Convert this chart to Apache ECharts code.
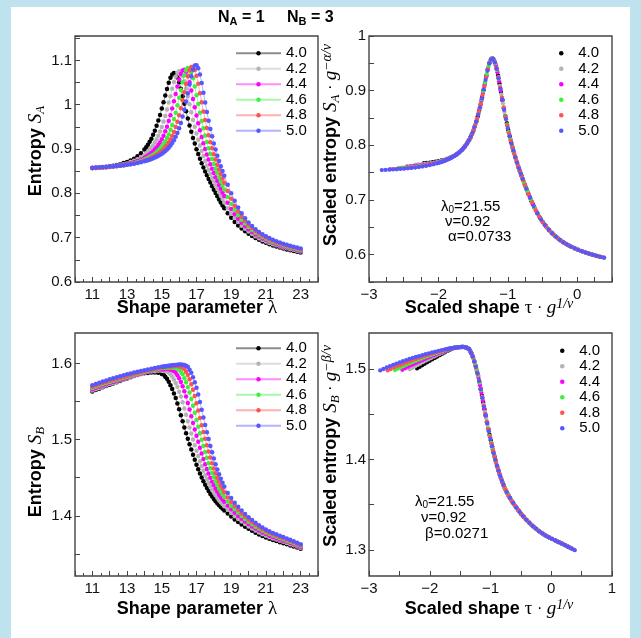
<!DOCTYPE html>
<html><head><meta charset="utf-8">
<script src="https://cdn.jsdelivr.net/npm/echarts@6/dist/echarts.min.js"></script>
<style>
html,body{margin:0;padding:0;background:#bfe3ee;overflow:hidden;}
#bg{position:absolute;left:11px;top:7px;width:619px;height:631px;background:#fff;}
#chart{position:absolute;left:0;top:0;width:641px;height:638px;}
</style></head><body>
<div id="bg"></div><div id="chart"></div>
<script>
// ---------------- data ----------------
const lambdaValues = [11,11.2,11.4,11.6,11.8,12,12.2,12.4,12.6,12.8,13,13.2,13.4,13.6,13.8,14,14.2,14.4,14.6,14.8,15,15.2,15.4,15.6,15.8,16,16.2,16.4,16.6,16.8,17,17.2,17.4,17.6,17.8,18,18.2,18.4,18.6,18.8,19,19.2,19.4,19.6,19.8,20,20.2,20.4,20.6,20.8,21,21.2,21.4,21.6,21.8,22,22.2,22.4,22.6,22.8,23];
// extra samples in the steep parts
const lambdaMidA = [14.1,14.3,14.5,14.7,14.9,15.1,15.3,15.5,15.7,15.9,16.1,16.3,16.5,16.7,16.9,17.1,17.3,17.5,17.7,17.9,18.1,18.3,18.5];
const lambdaMidB = [15.1,15.3,15.5,15.7,15.9,16.1,16.3,16.5,16.7,16.9,17.1,17.3,17.5,17.7,17.9,18.1,18.3,18.5];
const gLabels = ['4.0','4.2','4.4','4.6','4.8','5.0'];

const SA_40 = [0.8570,0.8576,0.8583,0.8591,0.8601,0.8612,0.8624,0.8638,0.8655,0.8684,
 0.8710,0.8743,0.8783,0.8836,0.8905,0.8990,0.9097,0.9231,0.9414,0.9641,
 0.9913,1.0207,1.0496,1.0683,1.0683,1.0504,1.0192,0.9855,0.9533,0.9248,
 0.8996,0.8778,0.8584,0.8407,0.8242,0.8084,0.7934,0.7794,0.7664,0.7549,
 0.7447,0.7356,0.7276,0.7206,0.7143,0.7087,0.7036,0.6991,0.6951,0.6915,
 0.6883,0.6853,0.6826,0.6801,0.6778,0.6756,0.6736,0.6717,0.6699,0.6683,0.6667];
const SA_42 = [0.8571,0.8576,0.8582,0.8588,0.8596,0.8605,0.8616,0.8629,0.8643,0.8658,
 0.8676,0.8706,0.8734,0.8770,0.8812,0.8868,0.8939,0.9030,0.9147,0.9297,
 0.9495,0.9743,1.0047,1.0362,1.0639,1.0757,1.0646,1.0367,1.0010,0.9655,
 0.9349,0.9077,0.8840,0.8631,0.8443,0.8268,0.8102,0.7945,0.7796,0.7662,
 0.7545,0.7442,0.7351,0.7271,0.7200,0.7137,0.7081,0.7032,0.6988,0.6950,
 0.6915,0.6882,0.6853,0.6827,0.6803,0.6780,0.6759,0.6739,0.6721,0.6703,0.6687];
const SA_44 = [0.8570,0.8574,0.8579,0.8584,0.8591,0.8599,0.8609,0.8619,0.8632,0.8646,
 0.8662,0.8680,0.8705,0.8732,0.8763,0.8802,0.8849,0.8909,0.8988,0.9090,
 0.9222,0.9400,0.9631,0.9917,1.0244,1.0568,1.0770,1.0743,1.0507,1.0131,
 0.9754,0.9425,0.9131,0.8878,0.8658,0.8460,0.8277,0.8103,0.7939,0.7786,
 0.7649,0.7530,0.7426,0.7337,0.7258,0.7188,0.7127,0.7073,0.7025,0.6983,
 0.6945,0.6911,0.6880,0.6852,0.6826,0.6803,0.6781,0.6760,0.6741,0.6723,0.6706];
const SA_46 = [0.8570,0.8574,0.8579,0.8584,0.8590,0.8596,0.8605,0.8614,0.8625,0.8637,
 0.8651,0.8667,0.8685,0.8705,0.8733,0.8763,0.8799,0.8842,0.8896,0.8964,
 0.9054,0.9171,0.9327,0.9541,0.9816,1.0156,1.0507,1.0775,1.0806,1.0595,
 1.0214,0.9818,0.9468,0.9157,0.8893,0.8663,0.8458,0.8267,0.8087,0.7917,
 0.7762,0.7625,0.7507,0.7406,0.7318,0.7240,0.7172,0.7113,0.7060,0.7015,
 0.6975,0.6938,0.6905,0.6876,0.6849,0.6824,0.6801,0.6780,0.6760,0.6741,0.6724];
const SA_48 = [0.8569,0.8573,0.8578,0.8583,0.8589,0.8595,0.8602,0.8610,0.8620,0.8631,
 0.8643,0.8657,0.8673,0.8691,0.8712,0.8734,0.8766,0.8801,0.8842,0.8893,
 0.8956,0.9038,0.9148,0.9294,0.9496,0.9763,1.0098,1.0465,1.0777,1.0853,
 1.0654,1.0261,0.9845,0.9477,0.9155,0.8882,0.8647,0.8436,0.8238,0.8053,
 0.7879,0.7722,0.7589,0.7474,0.7377,0.7291,0.7217,0.7152,0.7095,0.7046,
 0.7003,0.6965,0.6930,0.6899,0.6871,0.6845,0.6821,0.6799,0.6778,0.6759,0.6741];
const SA_50 = [0.8580,0.8583,0.8588,0.8593,0.8597,0.8603,0.8610,0.8617,0.8624,0.8633,
 0.8644,0.8656,0.8669,0.8684,0.8703,0.8723,0.8745,0.8774,0.8807,0.8846,
 0.8894,0.8954,0.9031,0.9135,0.9275,0.9468,0.9733,1.0071,1.0454,1.0796,
 1.0891,1.0684,1.0270,0.9833,0.9452,0.9126,0.8851,0.8613,0.8397,0.8194,
 0.8005,0.7831,0.7679,0.7549,0.7439,0.7344,0.7262,0.7191,0.7129,0.7077,
 0.7031,0.6990,0.6953,0.6921,0.6892,0.6865,0.6840,0.6817,0.6795,0.6776,0.6757];

const SA_40_mid = [0.9039,0.9162,0.9322,0.9524,0.9768,1.0058,1.0357,1.0609,1.0716,1.0612,1.0360,1.0023,0.9686,0.9388,0.9122,0.8885,0.8677,0.8491,0.8322,0.8162,0.8009,0.7864,0.7727];
const SA_42_mid = [0.8900,0.8979,0.9082,0.9216,0.9394,0.9619,0.9893,1.0192,1.0513,1.0722,1.0723,1.0527,1.0189,0.9832,0.9502,0.9211,0.8954,0.8730,0.8532,0.8354,0.8184,0.8023,0.7871];
const SA_44_mid = [0.8825,0.8878,0.8946,0.9035,0.9149,0.9298,0.9502,0.9762,1.0079,1.0411,1.0694,1.0788,1.0649,1.0319,0.9942,0.9584,0.9272,0.8998,0.8762,0.8554,0.8366,0.8188,0.8019];
const SA_46_mid = [0.8780,0.8820,0.8868,0.8929,0.9008,0.9112,0.9248,0.9434,0.9679,0.9985,1.0331,1.0665,1.0826,1.0727,1.0412,1.0016,0.9635,0.9306,0.9019,0.8773,0.8557,0.8360,0.8175];
const SA_48_mid = [0.8751,0.8782,0.8819,0.8865,0.8921,0.8992,0.9087,0.9213,0.9383,0.9618,0.9919,1.0280,1.0641,1.0852,1.0783,1.0470,1.0053,0.9655,0.9311,0.9016,0.8762,0.8540,0.8337];
const SA_50_mid = [0.8734,0.8760,0.8790,0.8826,0.8870,0.8923,0.8990,0.9079,0.9198,0.9360,0.9586,0.9884,1.0259,1.0643,1.0882,1.0820,1.0488,1.0051,0.9640,0.9288,0.8987,0.8730,0.8504];

const SB_40 = [1.5633,1.5651,1.5669,1.5687,1.5704,1.5721,1.5738,1.5755,1.5771,1.5788,
 1.5804,1.5819,1.5835,1.5850,1.5863,1.5873,1.5876,1.5880,1.5881,1.5877,
 1.5863,1.5827,1.5760,1.5666,1.5548,1.5398,1.5240,1.5085,1.4940,1.4801,
 1.4670,1.4556,1.4455,1.4366,1.4288,1.4220,1.4164,1.4115,1.4071,1.4030,
 1.3990,1.3952,1.3919,1.3887,1.3857,1.3829,1.3803,1.3778,1.3755,1.3735,
 1.3716,1.3698,1.3683,1.3668,1.3654,1.3640,1.3626,1.3612,1.3597,1.3583,1.3568];
const SB_42 = [1.5646,1.5663,1.5679,1.5696,1.5712,1.5729,1.5745,1.5760,1.5776,1.5791,
 1.5806,1.5820,1.5835,1.5849,1.5862,1.5875,1.5888,1.5896,1.5899,1.5903,
 1.5904,1.5898,1.5881,1.5828,1.5743,1.5630,1.5490,1.5327,1.5158,1.5002,
 1.4854,1.4715,1.4591,1.4483,1.4389,1.4306,1.4236,1.4177,1.4126,1.4080,
 1.4038,1.3996,1.3958,1.3924,1.3891,1.3861,1.3832,1.3806,1.3781,1.3759,
 1.3738,1.3720,1.3703,1.3688,1.3672,1.3658,1.3643,1.3628,1.3613,1.3597,1.3581];
const SB_44 = [1.5662,1.5679,1.5696,1.5712,1.5727,1.5742,1.5757,1.5772,1.5786,1.5800,
 1.5814,1.5828,1.5841,1.5854,1.5867,1.5879,1.5891,1.5902,1.5913,1.5918,
 1.5922,1.5925,1.5923,1.5912,1.5879,1.5807,1.5700,1.5566,1.5396,1.5217,
 1.5051,1.4894,1.4746,1.4614,1.4500,1.4402,1.4316,1.4244,1.4184,1.4132,
 1.4085,1.4041,1.3997,1.3960,1.3924,1.3892,1.3860,1.3832,1.3806,1.3782,
 1.3760,1.3740,1.3723,1.3706,1.3690,1.3674,1.3659,1.3643,1.3627,1.3610,1.3594];
const SB_46 = [1.5679,1.5695,1.5711,1.5727,1.5742,1.5758,1.5772,1.5786,1.5799,1.5813,
 1.5826,1.5839,1.5851,1.5864,1.5875,1.5887,1.5898,1.5909,1.5919,1.5929,
 1.5937,1.5941,1.5945,1.5947,1.5941,1.5921,1.5857,1.5754,1.5619,1.5446,
 1.5259,1.5083,1.4918,1.4762,1.4624,1.4506,1.4405,1.4318,1.4246,1.4186,
 1.4133,1.4085,1.4039,1.3997,1.3958,1.3922,1.3889,1.3858,1.3830,1.3804,
 1.3781,1.3760,1.3741,1.3724,1.3707,1.3691,1.3674,1.3658,1.3641,1.3623,1.3606];
const SB_48 = [1.5694,1.5710,1.5727,1.5742,1.5757,1.5772,1.5786,1.5801,1.5814,1.5826,
 1.5839,1.5852,1.5864,1.5875,1.5886,1.5897,1.5908,1.5918,1.5928,1.5937,
 1.5946,1.5953,1.5959,1.5963,1.5966,1.5963,1.5946,1.5892,1.5792,1.5656,
 1.5479,1.5284,1.5099,1.4926,1.4764,1.4621,1.4501,1.4398,1.4311,1.4241,
 1.4181,1.4128,1.4080,1.4032,1.3991,1.3952,1.3917,1.3883,1.3853,1.3825,
 1.3801,1.3778,1.3759,1.3741,1.3723,1.3706,1.3689,1.3672,1.3653,1.3635,1.3617];
const SB_50 = [1.5713,1.5730,1.5747,1.5762,1.5778,1.5793,1.5806,1.5820,1.5833,1.5846,
 1.5858,1.5869,1.5880,1.5892,1.5902,1.5912,1.5922,1.5931,1.5940,1.5949,
 1.5957,1.5965,1.5971,1.5977,1.5981,1.5985,1.5983,1.5969,1.5919,1.5820,
 1.5680,1.5495,1.5291,1.5098,1.4918,1.4751,1.4608,1.4488,1.4386,1.4301,
 1.4233,1.4173,1.4120,1.4070,1.4024,1.3982,1.3944,1.3908,1.3877,1.3846,
 1.3821,1.3796,1.3776,1.3757,1.3739,1.3721,1.3703,1.3685,1.3665,1.3646,1.3627];

const SB_40_mid = [1.5855,1.5799,1.5714,1.5607,1.5475,1.5320,1.5159,1.5011,1.4870,1.4736,1.4612,1.4503,1.4408,1.4325,1.4253,1.4192,1.4139,1.4093];
const SB_42_mid = [1.5901,1.5890,1.5858,1.5791,1.5693,1.5568,1.5410,1.5241,1.5080,1.4928,1.4784,1.4651,1.4534,1.4433,1.4345,1.4270,1.4206,1.4152];
const SB_44_mid = [1.5924,1.5926,1.5920,1.5902,1.5847,1.5756,1.5635,1.5481,1.5306,1.5133,1.4971,1.4819,1.4677,1.4554,1.4448,1.4355,1.4277,1.4213];
const SB_46_mid = [1.5939,1.5943,1.5946,1.5944,1.5931,1.5890,1.5807,1.5688,1.5535,1.5353,1.5169,1.4999,1.4838,1.4690,1.4562,1.4453,1.4359,1.4279];
const SB_48_mid = [1.5950,1.5957,1.5961,1.5965,1.5966,1.5957,1.5926,1.5848,1.5728,1.5573,1.5383,1.5190,1.5011,1.4844,1.4691,1.4560,1.4449,1.4354];
const SB_50_mid = [1.5961,1.5968,1.5974,1.5979,1.5983,1.5986,1.5980,1.5956,1.5878,1.5755,1.5593,1.5394,1.5193,1.5008,1.4834,1.4678,1.4547,1.4435];

// scaling parameters shown on the chart
const lambda0 = 21.55, nuExp = 0.92, alphaExp = 0.0733, betaExp = 0.0271;

// tick labels
const lambdaTickLabels = [11,13,15,17,19,21,23];
const scaledXTickLabels = [-3,-2,-1,0,1];
const SATickLabels = [0.6,0.7,0.8,0.9,1,1.1];
const SAScaledTickLabels = [0.6,0.7,0.8,0.9,1];
const SBTickLabels = [1.4,1.5,1.6];
const SBTickMarks = [1.35,1.4,1.45,1.5,1.55,1.6];
const SBScaledTickLabels = [1.3,1.4,1.5];
const SBScaledTickMarks = [1.3,1.35,1.4,1.45,1.5];

// ---------------- styling ----------------
const COLORS = ['#000000','#b4b4b4','#ff00ff','#3ef03e','#ff5252','#5757ff'];
const SANS = '"Liberation Sans", Arial, Helvetica, sans-serif';
const SERIF = '"Liberation Serif", "Times New Roman", serif';
const AX = '#444444';

const SA_ALL = [SA_40,SA_42,SA_44,SA_46,SA_48,SA_50];
const SA_MID = [SA_40_mid,SA_42_mid,SA_44_mid,SA_46_mid,SA_48_mid,SA_50_mid];
const SB_ALL = [SB_40,SB_42,SB_44,SB_46,SB_48,SB_50];
const SB_MID = [SB_40_mid,SB_42_mid,SB_44_mid,SB_46_mid,SB_48_mid,SB_50_mid];

function rawPairs(main, mid, lamMid){
  const p = lambdaValues.map((l,i)=>[l, main[i]]).concat(lamMid.map((l,i)=>[l, mid[i]]));
  p.sort((a,b)=>a[0]-b[0]);
  return p;
}
function scaledPairs(pairs, g, expo){
  const k = Math.pow(g, 1/nuExp), c = Math.pow(g, -expo/nuExp);
  return pairs.map(([l,v])=>[(l-lambda0)/lambda0*k, v*c]);
}
const near = (v, list) => list.some(t => Math.abs(t - v) < 1e-6);
const fmtNum = v => String(+v.toFixed(2)).replace('-', '\u2212');
const LBL = {color:'#111', fontSize:15, fontFamily:SANS};

function axisBase(o){
  return Object.assign({
    type:'value',
    axisLine:{show:false, onZero:false}, splitLine:{show:false},
    axisTick:{show:true, inside:true, length:5, lineStyle:{color:AX, width:1}},
  }, o);
}

const xAxes = [
  axisBase({gridIndex:0, min:10, max:24, interval:1,
    minorTick:{show:true, splitNumber:2, length:3, lineStyle:{color:AX}},
    axisLabel:Object.assign({margin:5, formatter:v=>near(v,lambdaTickLabels)?String(Math.round(v)):''}, LBL)}),
  axisBase({gridIndex:1, min:-3, max:0.5, interval:0.25,
    axisLabel:Object.assign({margin:5, formatter:v=>near(v,scaledXTickLabels)?fmtNum(v):''}, LBL)}),
  axisBase({gridIndex:2, min:10, max:24, interval:1,
    minorTick:{show:true, splitNumber:2, length:3, lineStyle:{color:AX}},
    axisLabel:Object.assign({margin:5, formatter:v=>near(v,lambdaTickLabels)?String(Math.round(v)):''}, LBL)}),
  axisBase({gridIndex:3, min:-3, max:1, interval:0.5,
    axisLabel:Object.assign({margin:5, formatter:v=>near(v,scaledXTickLabels)?fmtNum(v):''}, LBL)}),
];
const yAxes = [
  axisBase({gridIndex:0, min:0.6, max:1.155, interval:0.05,
    axisLabel:Object.assign({margin:3, formatter:v=>near(v,SATickLabels)?fmtNum(v):''}, LBL)}),
  axisBase({gridIndex:1, min:0.55, max:1.0, interval:0.05,
    axisLabel:Object.assign({margin:3, showMaxLabel:true, formatter:v=>near(v,SAScaledTickLabels)?fmtNum(v):''}, LBL)}),
  axisBase({gridIndex:2, min:1.321, max:1.64,
    axisTick:{show:true, inside:true, length:5, lineStyle:{color:AX}, customValues:SBTickMarks},
    axisLabel:Object.assign({margin:3, customValues:SBTickLabels, formatter:v=>fmtNum(v)}, LBL)}),
  axisBase({gridIndex:3, min:1.271, max:1.54,
    axisTick:{show:true, inside:true, length:5, lineStyle:{color:AX}, customValues:SBScaledTickMarks},
    axisLabel:Object.assign({margin:3, customValues:SBScaledTickLabels, formatter:v=>fmtNum(v)}, LBL)}),
];

const grids = [
  {left:75, top:36, width:243, height:246},
  {left:369, top:36, width:243, height:246},
  {left:75, top:333, width:243, height:243},
  {left:369, top:333, width:243, height:243},
].map(g => Object.assign({show:true, borderColor:AX, borderWidth:1.4, backgroundColor:'transparent'}, g));

const series = [];
const names = {A:[],As:[],B:[],Bs:[]};
gLabels.forEach((lab, j) => {
  const g = parseFloat(lab), col = COLORS[j];
  const lineCommon = {type:'line', symbol:'circle', symbolSize:4.5, showSymbol:true, animation:false,
    itemStyle:{color:col}, lineStyle:{color:col, width:1, opacity:0.45}, emphasis:{disabled:true}, z:2+j};
  const scatCommon = {type:'scatter', symbol:'circle', symbolSize:4.3, animation:false,
    itemStyle:{color:col, opacity:1}, emphasis:{disabled:true}, z:2+j};
  const pa = rawPairs(SA_ALL[j], SA_MID[j], lambdaMidA);
  const pb = rawPairs(SB_ALL[j], SB_MID[j], lambdaMidB);
  series.push(Object.assign({name:'A '+lab, xAxisIndex:0, yAxisIndex:0, data:pa}, lineCommon));
  series.push(Object.assign({name:'As '+lab, xAxisIndex:1, yAxisIndex:1, data:scaledPairs(pa, g, alphaExp)}, scatCommon));
  series.push(Object.assign({name:'B '+lab, xAxisIndex:2, yAxisIndex:2, data:pb}, lineCommon));
  series.push(Object.assign({name:'Bs '+lab, xAxisIndex:3, yAxisIndex:3, data:scaledPairs(pb, g, betaExp)}, scatCommon));
  names.A.push('A '+lab); names.As.push('As '+lab); names.B.push('B '+lab); names.Bs.push('Bs '+lab);
});

const legTxt = {fontSize:15, fontFamily:SANS, color:'#000', lineHeight:15.5};
const legFmt = n => n.split(' ')[1];
const legBase = {orient:'vertical', padding:0, itemGap:0, textStyle:legTxt, formatter:legFmt, selectedMode:false};
const legends = [
  Object.assign({data:names.A, left:235, top:45.5, itemWidth:45, itemHeight:5.5}, legBase),
  Object.assign({data:names.As, left:559, top:45.5, icon:'circle', itemWidth:24, itemHeight:4.5}, legBase),
  Object.assign({data:names.B, left:235, top:340.5, itemWidth:45, itemHeight:5.5}, legBase),
  Object.assign({data:names.Bs, left:560, top:343, icon:'circle', itemWidth:24, itemHeight:4.5}, legBase),
];

const rich = {
  t:{fontFamily:SANS, fontWeight:'bold', fontSize:18, color:'#000', lineHeight:22},
  m:{fontFamily:SERIF, fontSize:19, color:'#000', lineHeight:22},
  s:{fontFamily:SERIF, fontStyle:'italic', fontSize:19, color:'#000', lineHeight:22},
  sub:{fontFamily:SERIF, fontStyle:'italic', fontSize:13, color:'#000', verticalAlign:'bottom', lineHeight:12},
  sup:{fontFamily:SERIF, fontStyle:'italic', fontSize:14, color:'#000', verticalAlign:'top', lineHeight:12},
  d:{fontFamily:SANS, fontSize:16, color:'#000', lineHeight:22},
  r:{fontFamily:SANS, fontSize:15, color:'#000', lineHeight:16},
  rs:{fontFamily:SANS, fontSize:10, color:'#000', verticalAlign:'bottom', lineHeight:10},
  b:{fontFamily:SANS, fontWeight:'bold', fontSize:16, color:'#000', lineHeight:18},
  bs:{fontFamily:SANS, fontWeight:'bold', fontSize:11, color:'#000', verticalAlign:'bottom', lineHeight:11},
};
function txt(text, x, y, rot, align){
  return {type:'text', x:x, y:y, rotation:rot||0, silent:true, z:100,
    style:{text:text, rich:rich, align:align||'center', verticalAlign:'middle'}};
}
const graphics = [
  txt('{b|N}{bs|A}{b| = 1}', 218, 18, 0, 'left'),
  txt('{b|N}{bs|B}{b| = 3}', 287, 18, 0, 'left'),
  txt('{t|Entropy }{s|S}{sub|A}', 36, 151, Math.PI/2),
  txt('{t|Entropy }{s|S}{sub|B}', 36, 472, Math.PI/2),
  txt('{t|Scaled entropy }{s|S}{sub|A}{d| · }{s|g}{sup|\u2212\u03b1/\u03bd}', 331, 145, Math.PI/2),
  txt('{t|Scaled entropy }{s|S}{sub|B}{d| · }{s|g}{sup|\u2212\u03b2/\u03bd}', 331, 446, Math.PI/2),
  txt('{t|Shape parameter }{m|\u03bb}', 197, 308),
  txt('{t|Shape parameter }{m|\u03bb}', 197, 609),
  txt('{t|Scaled shape }{m|\u03c4}{d| · }{s|g}{sup|1/\u03bd}', 489, 308),
  txt('{t|Scaled shape }{m|\u03c4}{d| · }{s|g}{sup|1/\u03bd}', 489, 609),
  txt('{r|\u03bb}{rs|0}{r|=21.55}', 441, 207, 0, 'left'),
  txt('{r|\u03bd=0.92}', 445, 222, 0, 'left'),
  txt('{r|\u03b1=0.0733}', 448, 237, 0, 'left'),
  txt('{r|\u03bb}{rs|0}{r|=21.55}', 415, 502, 0, 'left'),
  txt('{r|\u03bd=0.92}', 421, 518, 0, 'left'),
  txt('{r|\u03b2=0.0271}', 425, 534, 0, 'left'),
];

const chart = echarts.init(document.getElementById('chart'), null, {renderer:'canvas'});
chart.setOption({
  animation:false,
  backgroundColor:'transparent',
  grid:grids, xAxis:xAxes, yAxis:yAxes, legend:legends, series:series, graphic:graphics,
  tooltip:{show:false}
});
</script></body></html>
